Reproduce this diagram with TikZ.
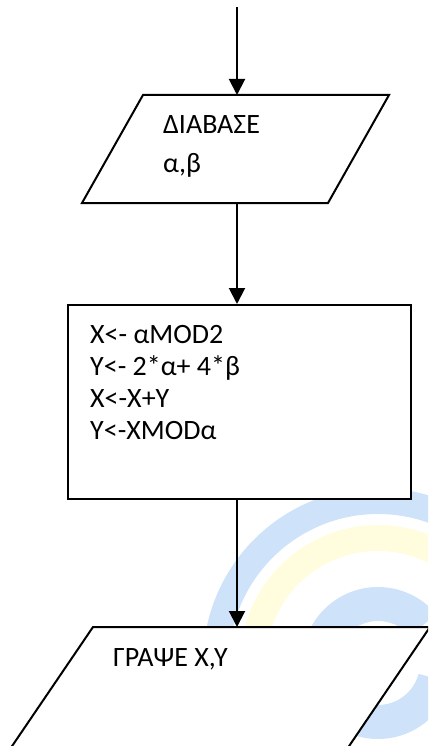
\documentclass[tikz,border=0pt]{standalone}
\usepackage{fontspec}
\setmainfont{Carlito}
\usetikzlibrary{arrows.meta}
\definecolor{wmblue}{RGB}{206,226,250}
\definecolor{wmyellow}{RGB}{255,253,222}

\begin{document}
\begin{tikzpicture}
    [%%%%%%%%%%%%%%%%%%%%%%%%%%%%%%
        x=1pt,y=-1pt,
        box/.style={rectangle,draw=black,line width=2pt,fill=white,minimum width=343pt,minimum height=194pt},
        io/.style={draw=black,line width=2pt,fill=white},
        txt/.style={anchor=base west,inner sep=0pt,font=\fontsize{28}{32}\selectfont},
        flow/.style={draw=black,line width=2pt,-{Triangle[width=16pt,length=16pt]}}
    ]%%%%%%%%%%%%%%%%%%%%%%%%%%%%%%

\useasboundingbox (0,0) rectangle (428,746);
\clip (0,0) rectangle (428,746);

% watermark
\fill[wmblue,even odd rule] (378,663) circle[radius=175pt] (378,663) circle[radius=149pt];
\fill[wmyellow,even odd rule] (378,663) circle[radius=138pt] (378,663) circle[radius=112pt];
\fill[wmblue] ([shift={(40:76pt)}]378,663) arc[start angle=40,end angle=345,radius=76pt]
    -- ([shift={(345:42pt)}]378,663) arc[start angle=345,end angle=40,radius=42pt] -- cycle;

% read
\coordinate (start) at (237,7);
\draw[io] (143,95) -- (389,95) -- (328,203) -- (82,203) -- cycle;
\coordinate (read-n) at (237,95);
\coordinate (read-s) at (237,203);
\node[txt] (read1) at (163,134) {ΔΙΑΒΑΣΕ};
\node[txt] (read2) at (163,172) {α,β};

% process
\node[box] (proc) at (239.5,402) {};
\foreach \t [count=\i] in {X<- αMOD2, Y<- 2*α+ 4*β, X<-X+Y, Y<-XMODα}
    \node[txt] (line\i) at (90,311+32*\i) {\t};

% write
\draw[io] (93,627) -- (430,627) -- (326,780) -- (-11,780) -- cycle;
\coordinate (write-n) at (237,627);
\node[txt] (write) at (113,666) {ΓΡΑΨΕ Χ,Υ};

% arrows
\draw[flow] (start) -- (read-n);
\draw[flow] (read-s) -- (read-s |- proc.north);
\draw[flow] (read-s |- proc.south) -- (write-n);

\end{tikzpicture}
\end{document}
